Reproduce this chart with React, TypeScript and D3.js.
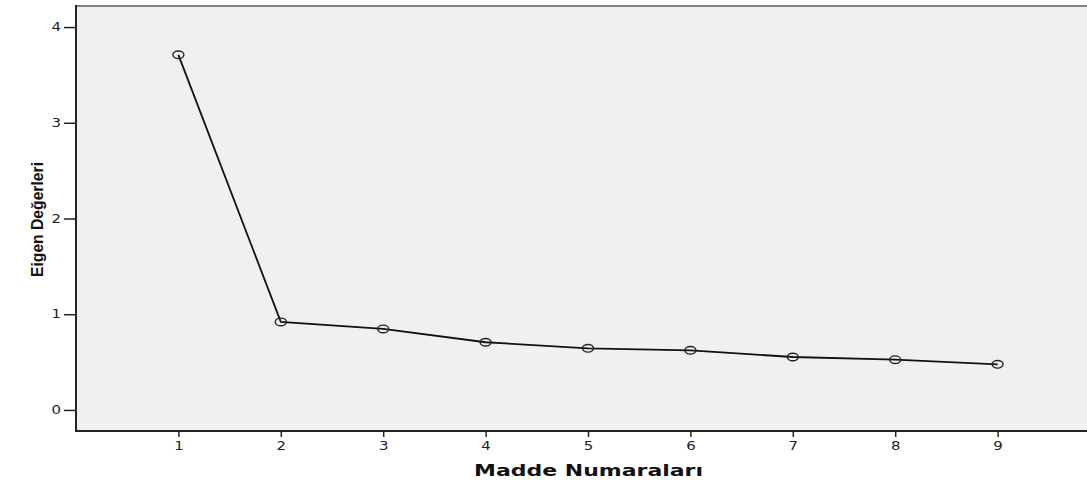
import React, { useEffect, useRef } from 'react';
import * as d3 from 'd3';

// scree plot values
const items = [1, 2, 3, 4, 5, 6, 7, 8, 9];
const eigenValues = [3.71, 0.92, 0.846, 0.707, 0.644, 0.623, 0.553, 0.525, 0.477];
const yTicks = [0, 1, 2, 3, 4];

const width = 1087;
const height = 480;
const stretch = 1.3; // the source picture is widened horizontally

const App: React.FC = () => {
    const svgRef = useRef<SVGSVGElement | null>(null);

    useEffect(() => {
        const svg = d3.select(svgRef.current);
        svg.selectAll('*').remove();
        const margin = { top: 6, right: 0, bottom: 49, left: 76 };
        const plotBottom = height - margin.bottom;

        const xScale = d3.scaleLinear().domain([0, 10]).range([margin.left, margin.left + 1024]);
        const yScale = d3.scaleLinear().domain([-0.22, 4.22]).range([plotBottom, margin.top]);

        // plot background
        svg.append('rect')
            .attr('x', margin.left)
            .attr('y', margin.top)
            .attr('width', width - margin.left)
            .attr('height', plotBottom - margin.top)
            .attr('fill', '#f0f0f0');

        // top frame line
        svg.append('line')
            .attr('x1', margin.left).attr('x2', width)
            .attr('y1', margin.top).attr('y2', margin.top)
            .attr('stroke', '#808080').attr('stroke-width', 2);

        const yAxis = svg.append('g')
            .attr('transform', `translate(${margin.left},0)`)
            .call(d3.axisLeft(yScale).tickValues(yTicks).tickFormat(d3.format('d')).tickSize(12).tickPadding(3).tickSizeOuter(0));
        yAxis.select('.domain').remove();
        yAxis.selectAll('.tick text')
            .attr('x', -15 / stretch)
            .attr('transform', `scale(${stretch},1)`);

        const xAxis = svg.append('g')
            .attr('transform', `translate(0,${plotBottom})`)
            .call(d3.axisBottom(xScale).tickValues(items).tickFormat(d3.format('d')).tickSize(6).tickPadding(5).tickSizeOuter(0));
        xAxis.select('.domain').remove();
        xAxis.selectAll('.tick text').attr('transform', `scale(${stretch},1)`);

        svg.selectAll('.tick line').attr('stroke', '#222').attr('stroke-width', 1.5);
        svg.selectAll('.tick text')
            .attr('fill', '#222')
            .style('font-family', 'DejaVu Sans, sans-serif')
            .style('font-size', '11.5px');

        // axis lines
        svg.append('line')
            .attr('x1', margin.left).attr('x2', margin.left)
            .attr('y1', margin.top - 1).attr('y2', plotBottom + 1)
            .attr('stroke', '#222').attr('stroke-width', 2);
        svg.append('line')
            .attr('x1', margin.left).attr('x2', width)
            .attr('y1', plotBottom).attr('y2', plotBottom)
            .attr('stroke', '#222').attr('stroke-width', 2);

        const points = items.map((d, i) => ({ item: d, value: eigenValues[i] }));

        const line = d3.line<{ item: number; value: number }>()
            .x((d) => xScale(d.item))
            .y((d) => yScale(d.value));

        svg.append('path')
            .datum(points)
            .attr('d', line)
            .attr('fill', 'none')
            .attr('stroke', '#111')
            .attr('stroke-width', 1.8);

        svg.append('g')
            .selectAll('ellipse')
            .data(points)
            .join('ellipse')
            .attr('cx', (d) => xScale(d.item))
            .attr('cy', (d) => yScale(d.value))
            .attr('rx', 5.5)
            .attr('ry', 3.8)
            .attr('fill', 'none')
            .attr('stroke', '#222')
            .attr('stroke-width', 1.4);

        svg.append('text')
            .attr('x', 474)
            .attr('y', 476)
            .attr('textLength', 229)
            .attr('lengthAdjust', 'spacingAndGlyphs')
            .attr('fill', '#111')
            .style('font-family', 'DejaVu Sans, sans-serif')
            .style('font-weight', 'bold')
            .style('font-size', '16px')
            .text('Madde Numaraları');

        svg.append('text')
            .attr('transform', `translate(42.5,277) rotate(-90)`)
            .attr('textLength', 115)
            .attr('lengthAdjust', 'spacingAndGlyphs')
            .attr('fill', '#111')
            .style('font-family', 'Liberation Sans Narrow, Arial Narrow, sans-serif')
            .style('font-stretch', 'condensed')
            .style('font-weight', 'bold')
            .style('font-size', '17px')
            .text('Eigen Değerleri');
    }, []);

    return (
        <div style={{ position: 'absolute', left: 0, top: 0, background: '#fff' }}>
            <svg ref={svgRef} width={width} height={height} style={{ display: 'block' }}></svg>
        </div>
    );
};

export default App;
